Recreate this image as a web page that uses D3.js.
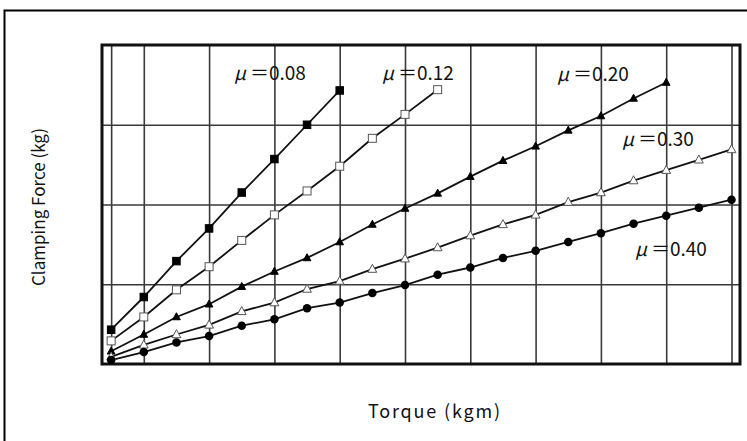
<!DOCTYPE html>
<html>
<head>
<meta charset="utf-8">
<script src="https://cdn.jsdelivr.net/npm/d3@7/dist/d3.min.js"></script>
<style>
  html, body { margin: 0; padding: 0; background: #fff; }
  svg { display: block; }
</style>
</head>
<body>
<svg id="chart" width="747" height="441"></svg>
<script>
// ---- data ----
const torqueSteps = [0,1,2,3,4,5,6,7,8,9,10,11,12,13,14,15,16,17,18,19];
const xGridTicks = [0,1,3,5,7,9,11,13,15,17,19];
const yGridTicks = [100,200,300];

const mu008 = [43, 84, 129, 170, 215, 257, 300, 343];
const mu012 = [29, 59, 93, 122, 155, 187, 217, 248, 283, 313, 344];
const mu020 = [16, 37, 59, 75, 97, 116, 133, 153, 175, 195, 214, 235, 255, 273, 293, 311, 333, 353];
const mu030 = [9, 24, 37, 49, 66, 77, 94, 104, 119, 132, 146, 161, 175, 187, 203, 215, 230, 243, 256, 269];
const mu040 = [5, 15, 27, 35, 48, 56, 70, 77, 89, 99, 112, 121, 133, 142, 153, 164, 176, 186, 196, 206];

const seriesLabels = ["0.08", "0.12", "0.20", "0.30", "0.40"];
const xTitle = "Torque (kgm)";
const yTitle = "Clamping Force (kg)";

// ---- chart ----
const svg = d3.select("#chart");
const W = 747, H = 441;
const plot = {left: 102, right: 740, top: 45, bottom: 364};

const x = d3.scaleLinear().domain([-0.28, 19.26]).range([plot.left, plot.right]);
const y = d3.scaleLinear().domain([0, 400]).range([plot.bottom, plot.top]);

svg.append("rect").attr("width", W).attr("height", H).attr("fill", "#fff");

// outer frame (extends beyond the window on right and bottom)
svg.append("rect")
  .attr("x", 4.5).attr("y", 10.5).attr("width", 800).attr("height", 500)
  .attr("fill", "none").attr("stroke", "#000").attr("stroke-width", 2);

// gridlines via axes
const gx = svg.append("g").attr("transform", `translate(0,${plot.bottom})`)
  .call(d3.axisBottom(x).tickValues(xGridTicks).tickSize(-(plot.bottom - plot.top)).tickFormat(""));
const gy = svg.append("g").attr("transform", `translate(${plot.left},0)`)
  .call(d3.axisLeft(y).tickValues(yGridTicks).tickSize(-(plot.right - plot.left)).tickFormat(""));
[gx, gy].forEach(g => {
  g.select(".domain").remove();
  g.selectAll(".tick line").attr("stroke", "#3a3a3a").attr("stroke-width", 1.6);
});

// plot frame
svg.append("rect")
  .attr("x", plot.left).attr("y", plot.top)
  .attr("width", plot.right - plot.left).attr("height", plot.bottom - plot.top)
  .attr("fill", "none").attr("stroke", "#111").attr("stroke-width", 3);

const allSeries = [
  {vals: mu008, marker: "square", fill: "#000", size: 7.5},
  {vals: mu012, marker: "square", fill: "#fff", size: 8},
  {vals: mu020, marker: "triangle", fill: "#000", size: 7},
  {vals: mu030, marker: "triangle", fill: "#fff", size: 8},
  {vals: mu040, marker: "circle", fill: "#000", size: 8.5}
];

const line = d3.line().x((d, i) => x(torqueSteps[i])).y(d => y(d));

allSeries.forEach(s => {
  svg.append("path").datum(s.vals)
    .attr("d", line).attr("fill", "none").attr("stroke", "#111").attr("stroke-width", 1.8);
});

allSeries.forEach(s => {
  const g = svg.append("g");
  const pts = s.vals.map((v, i) => [x(torqueSteps[i]), y(v)]);
  pts.forEach(([px, py]) => {
    const h = s.size / 2;
    if (s.marker === "square") {
      g.append("rect").attr("x", px - h).attr("y", py - h).attr("width", s.size).attr("height", s.size)
        .attr("fill", s.fill).attr("stroke", s.fill === "#fff" ? "#555" : "#000").attr("stroke-width", 1);
    } else if (s.marker === "triangle") {
      const t = s.size;
      g.append("path")
        .attr("d", `M${px},${py - t * 0.6}L${px + t * 0.55},${py + t * 0.4}L${px - t * 0.55},${py + t * 0.4}Z`)
        .attr("fill", s.fill).attr("stroke", s.fill === "#fff" ? "#555" : "#000").attr("stroke-width", 1);
    } else {
      g.append("circle").attr("cx", px).attr("cy", py).attr("r", h).attr("fill", s.fill);
    }
  });
});

// series labels
const labelPos = [[234, 80], [382, 80], [557, 81], [622, 146], [635, 256]];
seriesLabels.forEach((lab, i) => {
  const t = svg.append("text")
    .attr("x", labelPos[i][0]).attr("y", labelPos[i][1])
    .attr("font-family", "'Noto Sans CJK JP', 'Noto Sans', sans-serif")
    .attr("font-size", 19).attr("fill", "#111");
  t.append("tspan").attr("font-style", "italic").text("μ");
  t.append("tspan").attr("dx", 4).text("＝" + lab);
});

// axis titles
svg.append("text")
  .attr("x", 434).attr("y", 418).attr("text-anchor", "middle")
  .attr("font-family", "'Noto Sans CJK JP', 'Noto Sans', sans-serif")
  .attr("font-size", 18).attr("fill", "#111")
  .attr("textLength", 132).attr("lengthAdjust", "spacing")
  .text(xTitle);

svg.append("text")
  .attr("transform", "translate(45,207) rotate(-90)")
  .attr("text-anchor", "middle")
  .attr("font-family", "'Noto Sans CJK JP', 'Noto Sans', sans-serif")
  .attr("font-size", 17).attr("fill", "#111")
  .attr("textLength", 158).attr("lengthAdjust", "spacing")
  .text(yTitle);
</script>
</body>
</html>
